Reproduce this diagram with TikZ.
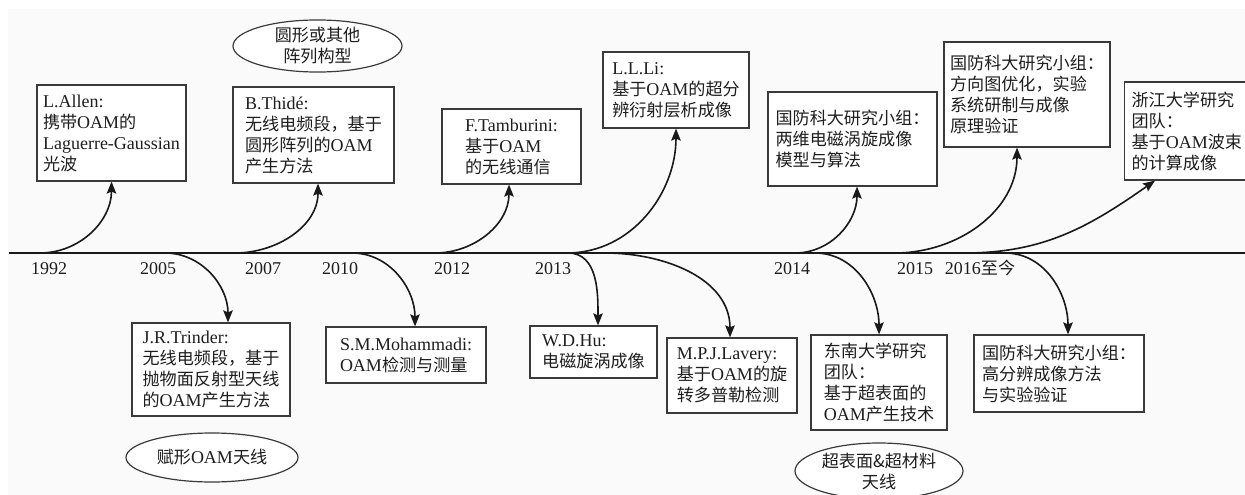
\documentclass[tikz,border=0pt]{standalone}
\usepackage{fontspec}
\setmainfont{Liberation Serif}
\newfontfamily\cjk{Noto Sans CJK SC}[Scale=0.95]
\usetikzlibrary{arrows.meta,shapes.geometric}
\newcommand\zh[1]{{\cjk #1}}
\definecolor{bgc}{HTML}{FAFAFA}
\definecolor{linec}{HTML}{3A3A3A}
\definecolor{txtc}{HTML}{1E1E1E}
\tikzset{
  txt/.style={font=\fontsize{18}{21}\selectfont, text=txtc},
  box/.style={txt, draw=linec, line width=1.2pt, fill=white, align=left, inner sep=0pt},
  oval/.style={txt, ellipse, draw=linec, line width=1.2pt, fill=white, align=center, inner sep=0pt},
  year/.style={txt, anchor=base, inner sep=0pt},
  arr/.style={draw=black!90, line width=1.6pt, -{Stealth[length=12pt,width=9.5pt,inset=2pt]}},
  tline/.style={draw=black!90, line width=2.6pt}
}
\begin{document}
\begin{tikzpicture}[x=1pt,y=1pt]
\useasboundingbox (0,0) rectangle (1245,-495);
\clip (0,0) rectangle (1245,-495);
\fill[bgc] (8,-9) rectangle (1245,-495);

% timeline
\coordinate (tl) at (9,-253);
\coordinate (tr) at (1245,-253);
\draw[tline] (tl) -- (tr);

% start points on the timeline
\coordinate (t1) at (40,-253);
\coordinate (t2) at (235,-253);
\coordinate (t3) at (165,-253);
\coordinate (t4) at (352,-253);
\coordinate (t5) at (435,-253);
\coordinate (t6) at (567,-253);
\coordinate (t7) at (568,-253);
\coordinate (t8) at (605,-253);
\coordinate (t9) at (795,-253);
\coordinate (t10) at (815,-253);
\coordinate (t11) at (895,-253);
\coordinate (t12) at (965,-253);
\coordinate (t13) at (1005,-253);

% years
\node[year] (y1992) at (49,-274) {1992};
\node[year] (y2005) at (158,-274) {2005};
\node[year] (y2007) at (263,-274) {2007};
\node[year] (y2010) at (340,-274) {2010};
\node[year] (y2012) at (452,-274) {2012};
\node[year] (y2013) at (553,-274) {2013};
\node[year] (y2014) at (792,-274) {2014};
\node[year] (y2015) at (915,-274) {2015};
\node[year] (y2016) at (980,-274) {2016\zh{至今}};

% upper boxes
\node[box, minimum width=149, minimum height=96] (allen) at (111.5,-133)
  {L.Allen:\\\zh{携带}OAM\zh{的}\\Laguerre-Gaussian\\\zh{光波}};
\node[box, minimum width=161, minimum height=96] (thide) at (313.5,-135)
  {B.Thid\'e:\\\zh{无线电频段，基于}\\\zh{圆形阵列的}OAM\\\zh{产生方法}};
\node[box, minimum width=139, minimum height=75] (tamb) at (511.5,-146.5)
  {F.Tamburini:\\\zh{基于}OAM\\\zh{的无线通信}};
\node[box, minimum width=146, minimum height=76] (lli) at (676,-90)
  {L.L.Li:\\\zh{基于}OAM\zh{的超分}\\\zh{辨衍射层析成像}};
\node[box, minimum width=169, minimum height=94] (nudt1) at (852.5,-139)
  {\zh{国防科大研究小组：}\\\zh{两维电磁涡旋成像}\\\zh{模型与算法}};
\node[box, minimum width=166, minimum height=105] (nudt2) at (1027,-94.5)
  {\zh{国防科大研究小组：}\\\zh{方向图优化，实验}\\\zh{系统研制与成像}\\\zh{原理验证}};
\node[box, anchor=west, inner xsep=7pt, text width=122pt, minimum height=98] (zju) at (1124,-131)
  {\zh{浙江大学研究}\\\zh{团队：}\\\zh{基于}OAM\zh{波束}\\\zh{的计算成像}};

% lower boxes
\node[box, minimum width=158, minimum height=93] (trinder) at (211,-369.5)
  {J.R.Trinder:\\\zh{无线电频段，基于}\\\zh{抛物面反射型天线}\\\zh{的}OAM\zh{产生方法}};
\node[box, minimum width=160, minimum height=56] (moham) at (406,-355)
  {S.M.Mohammadi:\\OAM\zh{检测与测量}};
\node[box, minimum width=127, minimum height=52] (hu) at (593.5,-352)
  {W.D.Hu:\\\zh{电磁旋涡成像}};
\node[box, minimum width=130, minimum height=75] (lavery) at (732,-375.5)
  {M.P.J.Lavery:\\\zh{基于}OAM\zh{的旋}\\\zh{转多普勒检测}};
\node[box, minimum width=136, minimum height=95] (seu) at (879,-382.5)
  {\zh{东南大学研究}\\\zh{团队：}\\\zh{基于超表面的}\\OAM\zh{产生技术}};
\node[box, minimum width=170, minimum height=77] (nudt3) at (1059,-373.5)
  {\zh{国防科大研究小组：}\\\zh{高分辨成像方法}\\\zh{与实验验证}};

% ellipses
\node[oval, minimum width=169, minimum height=48] (e1) at (317.5,-46)
  {\zh{圆形或其他}\\\zh{阵列构型}};
\node[oval, minimum width=172, minimum height=49] (e2) at (212,-457.5)
  {\zh{赋形}OAM\zh{天线}};
\node[oval, minimum width=168, minimum height=56] (e3) at (879,-471)
  {\zh{超表面\&超材料}\\\zh{天线}};

% arrows up
\draw[arr] (t1) to[out=0,in=-90] (allen.south);
\draw[arr] (t2) to[out=0,in=-90] ([xshift=4.5pt]thide.south);
\draw[arr] (t5) to[out=0,in=-90] ([xshift=-2.5pt]tamb.south);
\draw[arr] (t6) to[out=0,in=-90] (lli.south);
\draw[arr] (t9) to[out=0,in=-90] ([xshift=4.5pt]nudt1.south);
\draw[arr] (t11) to[out=0,in=-90] ([xshift=-10pt]nudt2.south);
\draw[arr] (t12) to[out=0,in=215] ([xshift=31pt]zju.south west);

% arrows down
\draw[arr] (t3) to[out=0,in=90] ([xshift=17pt]trinder.north);
\draw[arr] (t4) to[out=0,in=90] ([xshift=9pt]moham.north);
\draw[arr] (t7) to[out=0,in=90] ([xshift=4.5pt]hu.north);
\draw[arr] (t8) to[out=0,in=90] ([xshift=-2pt]lavery.north);
\draw[arr] (t10) to[out=0,in=90] (seu.north);
\draw[arr] (t13) to[out=0,in=90] ([xshift=9pt]nudt3.north);
\end{tikzpicture}
\end{document}
